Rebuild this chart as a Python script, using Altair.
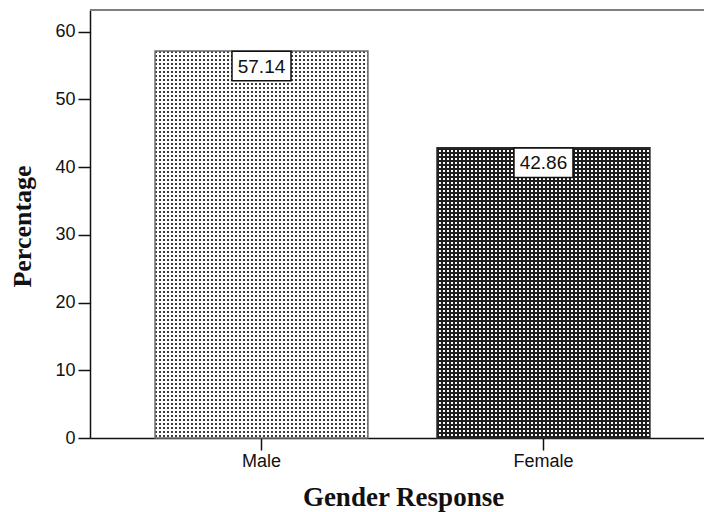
import altair as alt
import pandas as pd

# Chart data
genders = ["Male", "Female"]
percentages = [57.14, 42.86]
y_ticks = [0, 10, 20, 30, 40, 50, 60]

# Layout
Y_MAX = 63.2
PLOT_W, PLOT_H = 614, 428
PAD_IN, PAD_OUT, ALIGN = 0.245, 0.2112, 0.546

df = pd.DataFrame({"gender": genders, "pct": percentages})

step = PLOT_W / (len(genders) - PAD_IN + 2 * PAD_OUT)
bar_w = step * (1 - PAD_IN)
px_per_unit = PLOT_H / Y_MAX
CLEAR = "rgba(255,255,255,0)"


def stripes(length_px, period, on_px, on_color, off_color, along_x):
    """Hard-stop linear gradient that repeats on/off bands every `period` px."""
    stops = []
    k = 0
    while k * period < length_px:
        a = round(k * period / length_px, 5)
        b = round(min((k * period + on_px) / length_px, 1), 5)
        c = round(min((k + 1) * period / length_px, 1), 5)
        stops += [
            {"offset": a, "color": on_color},
            {"offset": b, "color": on_color},
            {"offset": b, "color": off_color},
            {"offset": c, "color": off_color},
        ]
        k += 1
    return {
        "gradient": "linear",
        "stops": stops,
        "x1": 0, "y1": 0,
        "x2": 1 if along_x else 0,
        "y2": 0 if along_x else 1,
    }


x_enc = alt.X(
    "gender:N",
    scale=alt.Scale(domain=genders, paddingInner=PAD_IN, paddingOuter=PAD_OUT, align=ALIGN),
    axis=alt.Axis(
        title="Gender Response", labelAngle=0,
        labelFont="Liberation Sans", labelFontSize=18, labelColor="#111", labelPadding=2,
        tickSize=12, tickWidth=1.5, tickColor="#111",
        domainColor="#111", domainWidth=1.5,
        titleFont="Liberation Serif", titleFontWeight="bold", titleFontSize=27, titleColor="#111",
        titleBaseline="alphabetic", titleY=67, titleX=313,
    ),
)
y_enc = alt.Y(
    "pct:Q",
    scale=alt.Scale(domain=[0, Y_MAX], nice=False, zero=True),
    axis=alt.Axis(
        values=y_ticks, format="d", title="Percentage", grid=False,
        labelFont="Liberation Sans", labelFontSize=18, labelColor="#111", labelPadding=3,
        tickSize=12, tickWidth=1.5, tickColor="#111",
        domainColor="#111", domainWidth=1.5,
        titleFont="Liberation Serif", titleFontWeight="bold", titleFontSize=26, titleColor="#111",
        titleBaseline="alphabetic", titleAngle=-90, titleX=-60, titleY=PLOT_H / 2 + 2,
    ),
)

base = alt.Chart(df).encode(x=x_enc, y=y_enc)

layers = []
# Male bar: fine grey dots on white
male = base.transform_filter(alt.datum.gender == "Male")
male_h = percentages[0] * px_per_unit
layers += [
    male.mark_bar(fill="#3c3c3c"),
    male.mark_bar(fill=stripes(bar_w, 4, 2.2, CLEAR, "white", True)),
    male.mark_bar(fill=stripes(male_h, 4, 2.2, CLEAR, "white", False)),
]
# Female bar: dark cross-hatch with small white holes
female = base.transform_filter(alt.datum.gender == "Female")
female_h = percentages[1] * px_per_unit
layers += [
    female.mark_bar(fill="white"),
    female.mark_bar(fill=stripes(bar_w, 4, 1.8, "#1e1e1e", CLEAR, True)),
    female.mark_bar(fill=stripes(female_h, 4, 1.8, "#1e1e1e", CLEAR, False)),
]
# Bar outlines
layers.append(
    base.mark_bar(fillOpacity=0, strokeWidth=1.5).encode(
        stroke=alt.Stroke("gender:N", scale=alt.Scale(domain=genders, range=["#6e6e6e", "#2a2a2a"]), legend=None)
    )
)
# Top frame line
layers.append(
    alt.Chart(df).mark_rule(color="#777", strokeWidth=1.5).encode(y=alt.datum(Y_MAX))
)
# Value label boxes and text
layers.append(
    base.mark_point(
        shape="M-1,-0.5L1,-0.5L1,0.5L-1,0.5Z", size=59 * 59, filled=True,
        fill="white", stroke="#111", strokeWidth=1.5, opacity=1, yOffset=15,
    )
)
layers.append(
    base.mark_text(
        font="Liberation Sans", fontSize=19, color="#111", baseline="alphabetic", dy=21.5
    ).encode(text=alt.Text("pct:Q", format=".2f"))
)

chart = (
    alt.layer(*layers)
    .properties(
        width=PLOT_W, height=PLOT_H,
        padding={"left": 90, "top": 10, "right": 0, "bottom": 74},
        autosize=alt.AutoSizeParams(type="none"),
        background="white",
    )
    .configure_view(stroke=None)
)

chart.save("out.html", embed_options={"renderer": "svg", "actions": False})
